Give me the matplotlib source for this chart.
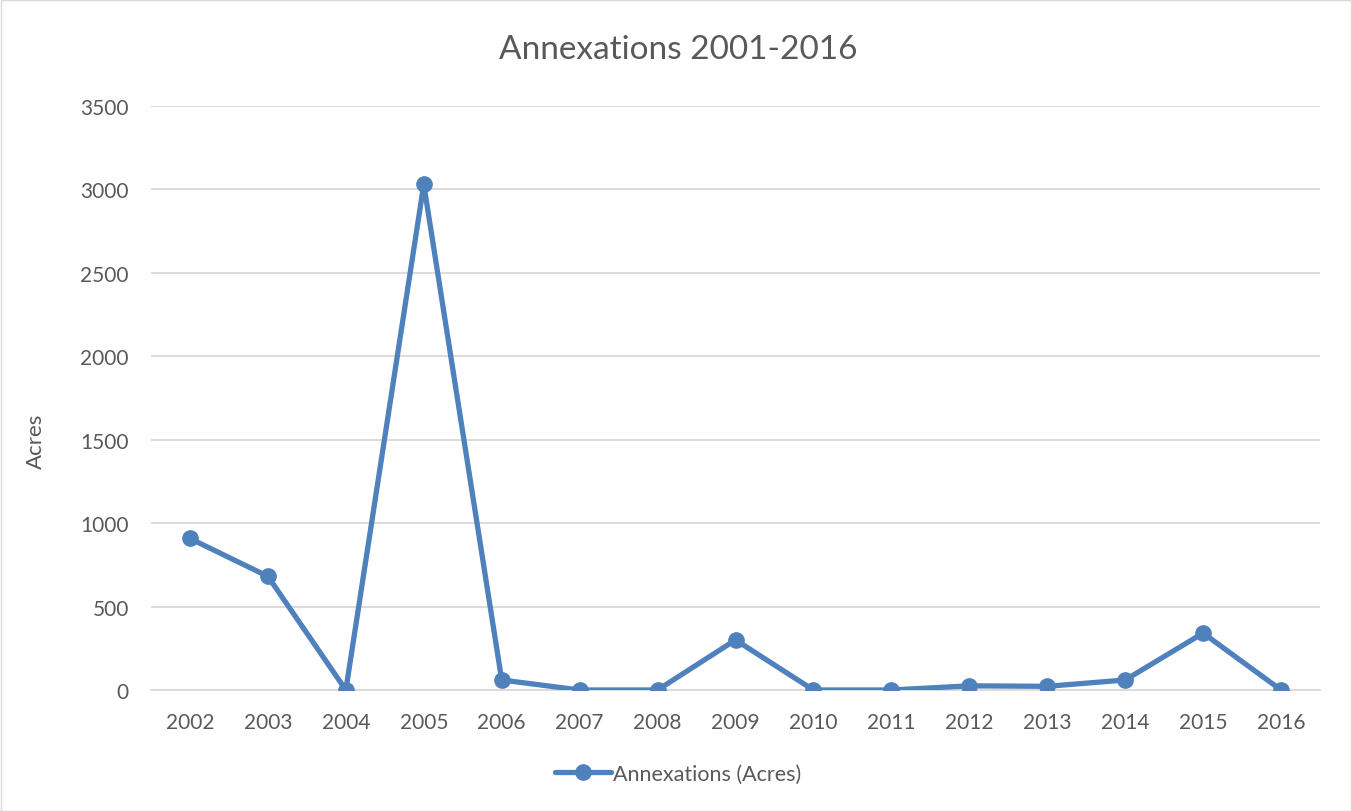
import matplotlib
matplotlib.use("Agg")
import matplotlib.pyplot as plt
from matplotlib.patches import Rectangle

years = ["2002", "2003", "2004", "2005", "2006", "2007", "2008", "2009",
         "2010", "2011", "2012", "2013", "2014", "2015", "2016"]
acres = [908, 681, 0, 3030, 60, 0, 0, 300, 0, 0, 25, 22, 60, 341, 0]
y_ticks = [0, 500, 1000, 1500, 2000, 2500, 3000, 3500]

blue = "#4f81bd"
text_gray = "#595959"
grid_gray = "#d9d9d9"

plt.rcParams["font.family"] = ["Lato", "DejaVu Sans"]

W, H = 1352, 812
fig = plt.figure(figsize=(W / 100, H / 100), dpi=100)
ax = fig.add_axes([151 / W, 1 - 691 / H, (1320 - 151) / W, (691 - 107) / H])

x = list(range(len(years)))
ax.plot(x, acres, color=blue, linewidth=3.8, marker="o", markersize=11,
        label="Annexations (Acres)", solid_capstyle="round", zorder=3)

ax.set_xlim(-0.5, len(years) - 0.5)
ax.set_ylim(0, 3500)
ax.set_yticks(y_ticks)
ax.set_xticks(x)
ax.set_xticklabels(years)
ax.yaxis.grid(True, color=grid_gray, linewidth=1.3)
ax.set_axisbelow(True)
for side in ["top", "right", "left"]:
    ax.spines[side].set_visible(False)
ax.spines["bottom"].set_color(grid_gray)
ax.spines["bottom"].set_linewidth(1.3)
ax.tick_params(length=0, labelsize=15, colors=text_gray)
ax.tick_params(axis="x", pad=16)
ax.tick_params(axis="y", pad=16)

ax.set_ylabel("Acres", fontsize=16, color=text_gray)
ax.yaxis.set_label_coords((46 - 151) / 1169, (691 - 441) / 584)
fig.text(678 / W, 1 - 50 / H, "Annexations 2001-2016", ha="center", va="center",
         fontsize=24, color=text_gray)

leg = fig.legend(loc="center", bbox_to_anchor=(678 / W, 1 - 775 / H), frameon=False,
                 fontsize=15.5, handlelength=2.6, handletextpad=0.1)
for t in leg.get_texts():
    t.set_color(text_gray)

fig.patches.append(Rectangle((0.5 / W, 0.5 / H), 1 - 1.5 / W, 1 - 1.5 / H,
                             transform=fig.transFigure, fill=False,
                             edgecolor="#d9d9d9", linewidth=1))

fig.savefig("out.png", dpi=100, facecolor="white")
